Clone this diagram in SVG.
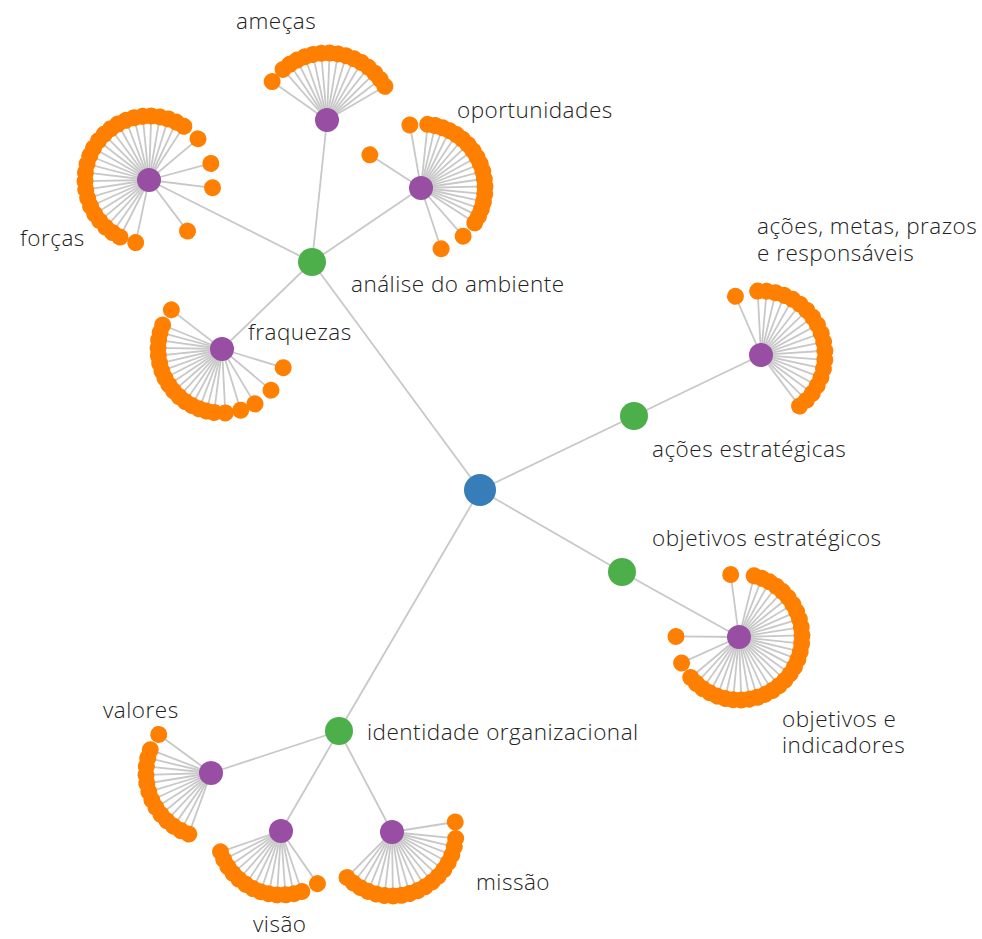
<svg xmlns="http://www.w3.org/2000/svg" width="982" height="939" viewBox="0 0 982 939">
<style>
.lk line{stroke:#c8c8c8;stroke-width:1.8;fill:none}
.leaf circle{fill:#ff7f00}
.p{fill:#984ea3}
.g{fill:#4daf4a}
.b{fill:#377eb8}
text{font-family:"Open Sans","Noto Sans","DejaVu Sans",sans-serif;font-weight:300;font-size:22.5px;letter-spacing:0.5px;fill:#222}
</style>
<rect width="982" height="939" fill="#fff"/>
<g id="links" class="lk">
<line x1="480" y1="490" x2="312" y2="262"/>
<line x1="480" y1="490" x2="634" y2="416"/>
<line x1="480" y1="490" x2="622" y2="572"/>
<line x1="480" y1="490" x2="339" y2="731"/>
<line x1="312" y1="262" x2="327" y2="120"/>
<line x1="312" y1="262" x2="149" y2="180"/>
<line x1="312" y1="262" x2="421" y2="188"/>
<line x1="312" y1="262" x2="222" y2="349"/>
<line x1="634" y1="416" x2="761" y2="355"/>
<line x1="622" y1="572" x2="739" y2="637"/>
<line x1="339" y1="731" x2="211" y2="773"/>
<line x1="339" y1="731" x2="281" y2="831"/>
<line x1="339" y1="731" x2="392" y2="832"/>
<g transform="translate(327 120)">
<line x2="67" transform="rotate(215)"/><line x2="67" transform="rotate(229)"/><line x2="67" transform="rotate(236.2)"/><line x2="67" transform="rotate(243.4)"/><line x2="67" transform="rotate(250.6)"/><line x2="67" transform="rotate(257.8)"/><line x2="67" transform="rotate(265)"/><line x2="67" transform="rotate(272.2)"/><line x2="67" transform="rotate(279.4)"/><line x2="67" transform="rotate(286.6)"/><line x2="67" transform="rotate(293.8)"/><line x2="67" transform="rotate(301)"/><line x2="67" transform="rotate(308.2)"/><line x2="67" transform="rotate(315.4)"/><line x2="67" transform="rotate(322.6)"/><line x2="67" transform="rotate(329.8)"/>
</g>
<g transform="translate(149 180)">
<line x2="64" transform="rotate(102)"/><line x2="64" transform="rotate(117)"/><line x2="64" transform="rotate(124.8)"/><line x2="64" transform="rotate(132.5)"/><line x2="64" transform="rotate(140.3)"/><line x2="64" transform="rotate(148)"/><line x2="64" transform="rotate(155.8)"/><line x2="64" transform="rotate(163.5)"/><line x2="64" transform="rotate(171.3)"/><line x2="64" transform="rotate(179)"/><line x2="64" transform="rotate(186.8)"/><line x2="64" transform="rotate(194.5)"/><line x2="64" transform="rotate(202.3)"/><line x2="64" transform="rotate(210)"/><line x2="64" transform="rotate(217.8)"/><line x2="64" transform="rotate(225.5)"/><line x2="64" transform="rotate(233.3)"/><line x2="64" transform="rotate(241)"/><line x2="64" transform="rotate(248.8)"/><line x2="64" transform="rotate(256.5)"/><line x2="64" transform="rotate(264.3)"/><line x2="64" transform="rotate(272)"/><line x2="64" transform="rotate(279.8)"/><line x2="64" transform="rotate(287.5)"/><line x2="64" transform="rotate(295.3)"/><line x2="64" transform="rotate(303)"/><line x2="64" transform="rotate(320)"/><line x2="64" transform="rotate(345)"/><line x2="64" transform="rotate(7)"/><line x2="64" transform="rotate(53)"/>
</g>
<g transform="translate(421 188)">
<line x2="64" transform="rotate(276)"/><line x2="64" transform="rotate(282.9)"/><line x2="64" transform="rotate(289.8)"/><line x2="64" transform="rotate(296.6)"/><line x2="64" transform="rotate(303.5)"/><line x2="64" transform="rotate(310.4)"/><line x2="64" transform="rotate(317.3)"/><line x2="64" transform="rotate(324.2)"/><line x2="64" transform="rotate(331.1)"/><line x2="64" transform="rotate(337.9)"/><line x2="64" transform="rotate(344.8)"/><line x2="64" transform="rotate(351.7)"/><line x2="64" transform="rotate(358.6)"/><line x2="64" transform="rotate(365.5)"/><line x2="64" transform="rotate(372.4)"/><line x2="64" transform="rotate(379.2)"/><line x2="64" transform="rotate(386.1)"/><line x2="64" transform="rotate(393)"/><line x2="64" transform="rotate(48.8)"/><line x2="64" transform="rotate(71.7)"/><line x2="61" transform="rotate(213)"/><line x2="64" transform="rotate(260)"/>
</g>
<g transform="translate(222 349)">
<line x2="64" transform="rotate(59)"/><line x2="64" transform="rotate(73)"/><line x2="64" transform="rotate(87)"/><line x2="64" transform="rotate(97)"/><line x2="64" transform="rotate(104)"/><line x2="64" transform="rotate(111)"/><line x2="64" transform="rotate(118)"/><line x2="64" transform="rotate(125)"/><line x2="64" transform="rotate(132)"/><line x2="64" transform="rotate(139)"/><line x2="64" transform="rotate(146)"/><line x2="64" transform="rotate(153)"/><line x2="64" transform="rotate(160)"/><line x2="64" transform="rotate(167)"/><line x2="64" transform="rotate(174)"/><line x2="64" transform="rotate(181)"/><line x2="64" transform="rotate(188)"/><line x2="64" transform="rotate(195)"/><line x2="64" transform="rotate(202)"/><line x2="64" transform="rotate(217.7)"/><line x2="64" transform="rotate(17)"/><line x2="64" transform="rotate(40)"/>
</g>
<g transform="translate(761 355)">
<line x2="64" transform="rotate(267)"/><line x2="64" transform="rotate(275.1)"/><line x2="64" transform="rotate(283.2)"/><line x2="64" transform="rotate(291.3)"/><line x2="64" transform="rotate(299.4)"/><line x2="64" transform="rotate(307.6)"/><line x2="64" transform="rotate(315.7)"/><line x2="64" transform="rotate(323.8)"/><line x2="64" transform="rotate(331.9)"/><line x2="64" transform="rotate(340)"/><line x2="64" transform="rotate(348.1)"/><line x2="64" transform="rotate(356.2)"/><line x2="64" transform="rotate(364.3)"/><line x2="64" transform="rotate(372.4)"/><line x2="64" transform="rotate(380.5)"/><line x2="64" transform="rotate(388.7)"/><line x2="64" transform="rotate(396.8)"/><line x2="64" transform="rotate(404.9)"/><line x2="64" transform="rotate(413)"/><line x2="64" transform="rotate(246.5)"/>
</g>
<g transform="translate(739 637)">
<line x2="63" transform="rotate(284)"/><line x2="63" transform="rotate(291.4)"/><line x2="63" transform="rotate(298.9)"/><line x2="63" transform="rotate(306.4)"/><line x2="63" transform="rotate(313.8)"/><line x2="63" transform="rotate(321.2)"/><line x2="63" transform="rotate(328.7)"/><line x2="63" transform="rotate(336.2)"/><line x2="63" transform="rotate(343.6)"/><line x2="63" transform="rotate(351)"/><line x2="63" transform="rotate(358.5)"/><line x2="63" transform="rotate(366)"/><line x2="63" transform="rotate(373.4)"/><line x2="63" transform="rotate(380.8)"/><line x2="63" transform="rotate(388.3)"/><line x2="63" transform="rotate(395.8)"/><line x2="63" transform="rotate(403.2)"/><line x2="63" transform="rotate(410.6)"/><line x2="63" transform="rotate(418.1)"/><line x2="63" transform="rotate(425.6)"/><line x2="63" transform="rotate(433)"/><line x2="63" transform="rotate(440.4)"/><line x2="63" transform="rotate(447.9)"/><line x2="63" transform="rotate(455.4)"/><line x2="63" transform="rotate(462.8)"/><line x2="63" transform="rotate(470.2)"/><line x2="63" transform="rotate(477.7)"/><line x2="63" transform="rotate(485.2)"/><line x2="63" transform="rotate(492.6)"/><line x2="63" transform="rotate(500)"/><line x2="63" transform="rotate(262.4)"/><line x2="63" transform="rotate(180.5)"/><line x2="63" transform="rotate(155.7)"/>
</g>
<g transform="translate(211 773)">
<line x2="65" transform="rotate(110)"/><line x2="65" transform="rotate(117.6)"/><line x2="65" transform="rotate(125.2)"/><line x2="65" transform="rotate(132.8)"/><line x2="65" transform="rotate(140.3)"/><line x2="65" transform="rotate(147.9)"/><line x2="65" transform="rotate(155.5)"/><line x2="65" transform="rotate(163.1)"/><line x2="65" transform="rotate(170.7)"/><line x2="65" transform="rotate(178.3)"/><line x2="65" transform="rotate(185.8)"/><line x2="65" transform="rotate(193.4)"/><line x2="65" transform="rotate(201)"/><line x2="65" transform="rotate(216.4)"/>
</g>
<g transform="translate(281 831)">
<line x2="64" transform="rotate(71)"/><line x2="64" transform="rotate(78.5)"/><line x2="64" transform="rotate(86)"/><line x2="64" transform="rotate(93.5)"/><line x2="64" transform="rotate(101)"/><line x2="64" transform="rotate(108.5)"/><line x2="64" transform="rotate(116)"/><line x2="64" transform="rotate(123.5)"/><line x2="64" transform="rotate(131)"/><line x2="64" transform="rotate(138.5)"/><line x2="64" transform="rotate(146)"/><line x2="64" transform="rotate(153.5)"/><line x2="64" transform="rotate(161)"/><line x2="64" transform="rotate(55.3)"/>
</g>
<g transform="translate(392 832)">
<line x2="64" transform="rotate(5.8)"/><line x2="64" transform="rotate(13.4)"/><line x2="64" transform="rotate(21)"/><line x2="64" transform="rotate(28.5)"/><line x2="64" transform="rotate(36.1)"/><line x2="64" transform="rotate(43.7)"/><line x2="64" transform="rotate(51.3)"/><line x2="64" transform="rotate(58.9)"/><line x2="64" transform="rotate(66.4)"/><line x2="64" transform="rotate(74)"/><line x2="64" transform="rotate(81.6)"/><line x2="64" transform="rotate(89.2)"/><line x2="64" transform="rotate(96.8)"/><line x2="64" transform="rotate(104.3)"/><line x2="64" transform="rotate(111.9)"/><line x2="64" transform="rotate(119.5)"/><line x2="64" transform="rotate(127.1)"/><line x2="64" transform="rotate(134.7)"/><line x2="64" transform="rotate(351)"/>
</g>
</g>
<g id="root"><circle class="b" cx="480" cy="490" r="16"/></g>
<g id="analise"><circle class="g" cx="312" cy="262" r="14"/><text x="351" y="292">análise do ambiente</text></g>
<g id="acoes-estrategicas"><circle class="g" cx="634" cy="416" r="14"/><text x="652" y="457">ações estratégicas</text></g>
<g id="objetivos-estrategicos"><circle class="g" cx="622" cy="572" r="14"/><text x="652" y="546">objetivos estratégicos</text></g>
<g id="identidade"><circle class="g" cx="339" cy="731" r="14"/><text x="367" y="740">identidade organizacional</text></g>
<g id="ameacas"><circle class="p" cx="327" cy="120" r="12"/><text x="236" y="29">ameças</text></g>
<g id="forcas"><circle class="p" cx="149" cy="180" r="12"/><text x="20" y="246">forças</text></g>
<g id="oportunidades"><circle class="p" cx="421" cy="188" r="12"/><text x="457" y="118">oportunidades</text></g>
<g id="fraquezas"><circle class="p" cx="222" cy="349" r="12"/><text x="248" y="340">fraquezas</text></g>
<g id="acoes-metas"><circle class="p" cx="761" cy="355" r="12"/><text x="757" y="234">ações, metas, prazos<tspan x="757" dy="27">e responsáveis</tspan></text></g>
<g id="objetivos-indicadores"><circle class="p" cx="739" cy="637" r="12"/><text x="782" y="727">objetivos e<tspan x="782" dy="26">indicadores</tspan></text></g>
<g id="valores"><circle class="p" cx="211" cy="773" r="12"/><text x="103" y="718">valores</text></g>
<g id="visao"><circle class="p" cx="281" cy="831" r="12"/><text x="253" y="932">visão</text></g>
<g id="missao"><circle class="p" cx="392" cy="832" r="12"/><text x="476" y="890">missão</text></g>
<g id="leaves-ameacas" class="leaf" transform="translate(327 120)">
<circle r="8.5" cx="67" transform="rotate(215)"/><circle r="8.5" cx="67" transform="rotate(229)"/><circle r="8.5" cx="67" transform="rotate(236.2)"/><circle r="8.5" cx="67" transform="rotate(243.4)"/><circle r="8.5" cx="67" transform="rotate(250.6)"/><circle r="8.5" cx="67" transform="rotate(257.8)"/><circle r="8.5" cx="67" transform="rotate(265)"/><circle r="8.5" cx="67" transform="rotate(272.2)"/><circle r="8.5" cx="67" transform="rotate(279.4)"/><circle r="8.5" cx="67" transform="rotate(286.6)"/><circle r="8.5" cx="67" transform="rotate(293.8)"/><circle r="8.5" cx="67" transform="rotate(301)"/><circle r="8.5" cx="67" transform="rotate(308.2)"/><circle r="8.5" cx="67" transform="rotate(315.4)"/><circle r="8.5" cx="67" transform="rotate(322.6)"/><circle r="8.5" cx="67" transform="rotate(329.8)"/>
</g>
<g id="leaves-forcas" class="leaf" transform="translate(149 180)">
<circle r="8.5" cx="64" transform="rotate(102)"/><circle r="8.5" cx="64" transform="rotate(117)"/><circle r="8.5" cx="64" transform="rotate(124.8)"/><circle r="8.5" cx="64" transform="rotate(132.5)"/><circle r="8.5" cx="64" transform="rotate(140.3)"/><circle r="8.5" cx="64" transform="rotate(148)"/><circle r="8.5" cx="64" transform="rotate(155.8)"/><circle r="8.5" cx="64" transform="rotate(163.5)"/><circle r="8.5" cx="64" transform="rotate(171.3)"/><circle r="8.5" cx="64" transform="rotate(179)"/><circle r="8.5" cx="64" transform="rotate(186.8)"/><circle r="8.5" cx="64" transform="rotate(194.5)"/><circle r="8.5" cx="64" transform="rotate(202.3)"/><circle r="8.5" cx="64" transform="rotate(210)"/><circle r="8.5" cx="64" transform="rotate(217.8)"/><circle r="8.5" cx="64" transform="rotate(225.5)"/><circle r="8.5" cx="64" transform="rotate(233.3)"/><circle r="8.5" cx="64" transform="rotate(241)"/><circle r="8.5" cx="64" transform="rotate(248.8)"/><circle r="8.5" cx="64" transform="rotate(256.5)"/><circle r="8.5" cx="64" transform="rotate(264.3)"/><circle r="8.5" cx="64" transform="rotate(272)"/><circle r="8.5" cx="64" transform="rotate(279.8)"/><circle r="8.5" cx="64" transform="rotate(287.5)"/><circle r="8.5" cx="64" transform="rotate(295.3)"/><circle r="8.5" cx="64" transform="rotate(303)"/><circle r="8.5" cx="64" transform="rotate(320)"/><circle r="8.5" cx="64" transform="rotate(345)"/><circle r="8.5" cx="64" transform="rotate(7)"/><circle r="8.5" cx="64" transform="rotate(53)"/>
</g>
<g id="leaves-oportunidades" class="leaf" transform="translate(421 188)">
<circle r="8.5" cx="64" transform="rotate(276)"/><circle r="8.5" cx="64" transform="rotate(282.9)"/><circle r="8.5" cx="64" transform="rotate(289.8)"/><circle r="8.5" cx="64" transform="rotate(296.6)"/><circle r="8.5" cx="64" transform="rotate(303.5)"/><circle r="8.5" cx="64" transform="rotate(310.4)"/><circle r="8.5" cx="64" transform="rotate(317.3)"/><circle r="8.5" cx="64" transform="rotate(324.2)"/><circle r="8.5" cx="64" transform="rotate(331.1)"/><circle r="8.5" cx="64" transform="rotate(337.9)"/><circle r="8.5" cx="64" transform="rotate(344.8)"/><circle r="8.5" cx="64" transform="rotate(351.7)"/><circle r="8.5" cx="64" transform="rotate(358.6)"/><circle r="8.5" cx="64" transform="rotate(365.5)"/><circle r="8.5" cx="64" transform="rotate(372.4)"/><circle r="8.5" cx="64" transform="rotate(379.2)"/><circle r="8.5" cx="64" transform="rotate(386.1)"/><circle r="8.5" cx="64" transform="rotate(393)"/><circle r="8.5" cx="64" transform="rotate(48.8)"/><circle r="8.5" cx="64" transform="rotate(71.7)"/><circle r="8.5" cx="61" transform="rotate(213)"/><circle r="8.5" cx="64" transform="rotate(260)"/>
</g>
<g id="leaves-fraquezas" class="leaf" transform="translate(222 349)">
<circle r="8.5" cx="64" transform="rotate(59)"/><circle r="8.5" cx="64" transform="rotate(73)"/><circle r="8.5" cx="64" transform="rotate(87)"/><circle r="8.5" cx="64" transform="rotate(97)"/><circle r="8.5" cx="64" transform="rotate(104)"/><circle r="8.5" cx="64" transform="rotate(111)"/><circle r="8.5" cx="64" transform="rotate(118)"/><circle r="8.5" cx="64" transform="rotate(125)"/><circle r="8.5" cx="64" transform="rotate(132)"/><circle r="8.5" cx="64" transform="rotate(139)"/><circle r="8.5" cx="64" transform="rotate(146)"/><circle r="8.5" cx="64" transform="rotate(153)"/><circle r="8.5" cx="64" transform="rotate(160)"/><circle r="8.5" cx="64" transform="rotate(167)"/><circle r="8.5" cx="64" transform="rotate(174)"/><circle r="8.5" cx="64" transform="rotate(181)"/><circle r="8.5" cx="64" transform="rotate(188)"/><circle r="8.5" cx="64" transform="rotate(195)"/><circle r="8.5" cx="64" transform="rotate(202)"/><circle r="8.5" cx="64" transform="rotate(217.7)"/><circle r="8.5" cx="64" transform="rotate(17)"/><circle r="8.5" cx="64" transform="rotate(40)"/>
</g>
<g id="leaves-acoes" class="leaf" transform="translate(761 355)">
<circle r="8.5" cx="64" transform="rotate(267)"/><circle r="8.5" cx="64" transform="rotate(275.1)"/><circle r="8.5" cx="64" transform="rotate(283.2)"/><circle r="8.5" cx="64" transform="rotate(291.3)"/><circle r="8.5" cx="64" transform="rotate(299.4)"/><circle r="8.5" cx="64" transform="rotate(307.6)"/><circle r="8.5" cx="64" transform="rotate(315.7)"/><circle r="8.5" cx="64" transform="rotate(323.8)"/><circle r="8.5" cx="64" transform="rotate(331.9)"/><circle r="8.5" cx="64" transform="rotate(340)"/><circle r="8.5" cx="64" transform="rotate(348.1)"/><circle r="8.5" cx="64" transform="rotate(356.2)"/><circle r="8.5" cx="64" transform="rotate(364.3)"/><circle r="8.5" cx="64" transform="rotate(372.4)"/><circle r="8.5" cx="64" transform="rotate(380.5)"/><circle r="8.5" cx="64" transform="rotate(388.7)"/><circle r="8.5" cx="64" transform="rotate(396.8)"/><circle r="8.5" cx="64" transform="rotate(404.9)"/><circle r="8.5" cx="64" transform="rotate(413)"/><circle r="8.5" cx="64" transform="rotate(246.5)"/>
</g>
<g id="leaves-objetivos" class="leaf" transform="translate(739 637)">
<circle r="8.5" cx="63" transform="rotate(284)"/><circle r="8.5" cx="63" transform="rotate(291.4)"/><circle r="8.5" cx="63" transform="rotate(298.9)"/><circle r="8.5" cx="63" transform="rotate(306.4)"/><circle r="8.5" cx="63" transform="rotate(313.8)"/><circle r="8.5" cx="63" transform="rotate(321.2)"/><circle r="8.5" cx="63" transform="rotate(328.7)"/><circle r="8.5" cx="63" transform="rotate(336.2)"/><circle r="8.5" cx="63" transform="rotate(343.6)"/><circle r="8.5" cx="63" transform="rotate(351)"/><circle r="8.5" cx="63" transform="rotate(358.5)"/><circle r="8.5" cx="63" transform="rotate(366)"/><circle r="8.5" cx="63" transform="rotate(373.4)"/><circle r="8.5" cx="63" transform="rotate(380.8)"/><circle r="8.5" cx="63" transform="rotate(388.3)"/><circle r="8.5" cx="63" transform="rotate(395.8)"/><circle r="8.5" cx="63" transform="rotate(403.2)"/><circle r="8.5" cx="63" transform="rotate(410.6)"/><circle r="8.5" cx="63" transform="rotate(418.1)"/><circle r="8.5" cx="63" transform="rotate(425.6)"/><circle r="8.5" cx="63" transform="rotate(433)"/><circle r="8.5" cx="63" transform="rotate(440.4)"/><circle r="8.5" cx="63" transform="rotate(447.9)"/><circle r="8.5" cx="63" transform="rotate(455.4)"/><circle r="8.5" cx="63" transform="rotate(462.8)"/><circle r="8.5" cx="63" transform="rotate(470.2)"/><circle r="8.5" cx="63" transform="rotate(477.7)"/><circle r="8.5" cx="63" transform="rotate(485.2)"/><circle r="8.5" cx="63" transform="rotate(492.6)"/><circle r="8.5" cx="63" transform="rotate(500)"/><circle r="8.5" cx="63" transform="rotate(262.4)"/><circle r="8.5" cx="63" transform="rotate(180.5)"/><circle r="8.5" cx="63" transform="rotate(155.7)"/>
</g>
<g id="leaves-valores" class="leaf" transform="translate(211 773)">
<circle r="8.5" cx="65" transform="rotate(110)"/><circle r="8.5" cx="65" transform="rotate(117.6)"/><circle r="8.5" cx="65" transform="rotate(125.2)"/><circle r="8.5" cx="65" transform="rotate(132.8)"/><circle r="8.5" cx="65" transform="rotate(140.3)"/><circle r="8.5" cx="65" transform="rotate(147.9)"/><circle r="8.5" cx="65" transform="rotate(155.5)"/><circle r="8.5" cx="65" transform="rotate(163.1)"/><circle r="8.5" cx="65" transform="rotate(170.7)"/><circle r="8.5" cx="65" transform="rotate(178.3)"/><circle r="8.5" cx="65" transform="rotate(185.8)"/><circle r="8.5" cx="65" transform="rotate(193.4)"/><circle r="8.5" cx="65" transform="rotate(201)"/><circle r="8.5" cx="65" transform="rotate(216.4)"/>
</g>
<g id="leaves-visao" class="leaf" transform="translate(281 831)">
<circle r="8.5" cx="64" transform="rotate(71)"/><circle r="8.5" cx="64" transform="rotate(78.5)"/><circle r="8.5" cx="64" transform="rotate(86)"/><circle r="8.5" cx="64" transform="rotate(93.5)"/><circle r="8.5" cx="64" transform="rotate(101)"/><circle r="8.5" cx="64" transform="rotate(108.5)"/><circle r="8.5" cx="64" transform="rotate(116)"/><circle r="8.5" cx="64" transform="rotate(123.5)"/><circle r="8.5" cx="64" transform="rotate(131)"/><circle r="8.5" cx="64" transform="rotate(138.5)"/><circle r="8.5" cx="64" transform="rotate(146)"/><circle r="8.5" cx="64" transform="rotate(153.5)"/><circle r="8.5" cx="64" transform="rotate(161)"/><circle r="8.5" cx="64" transform="rotate(55.3)"/>
</g>
<g id="leaves-missao" class="leaf" transform="translate(392 832)">
<circle r="8.5" cx="64" transform="rotate(5.8)"/><circle r="8.5" cx="64" transform="rotate(13.4)"/><circle r="8.5" cx="64" transform="rotate(21)"/><circle r="8.5" cx="64" transform="rotate(28.5)"/><circle r="8.5" cx="64" transform="rotate(36.1)"/><circle r="8.5" cx="64" transform="rotate(43.7)"/><circle r="8.5" cx="64" transform="rotate(51.3)"/><circle r="8.5" cx="64" transform="rotate(58.9)"/><circle r="8.5" cx="64" transform="rotate(66.4)"/><circle r="8.5" cx="64" transform="rotate(74)"/><circle r="8.5" cx="64" transform="rotate(81.6)"/><circle r="8.5" cx="64" transform="rotate(89.2)"/><circle r="8.5" cx="64" transform="rotate(96.8)"/><circle r="8.5" cx="64" transform="rotate(104.3)"/><circle r="8.5" cx="64" transform="rotate(111.9)"/><circle r="8.5" cx="64" transform="rotate(119.5)"/><circle r="8.5" cx="64" transform="rotate(127.1)"/><circle r="8.5" cx="64" transform="rotate(134.7)"/><circle r="8.5" cx="64" transform="rotate(351)"/>
</g>
</svg>
